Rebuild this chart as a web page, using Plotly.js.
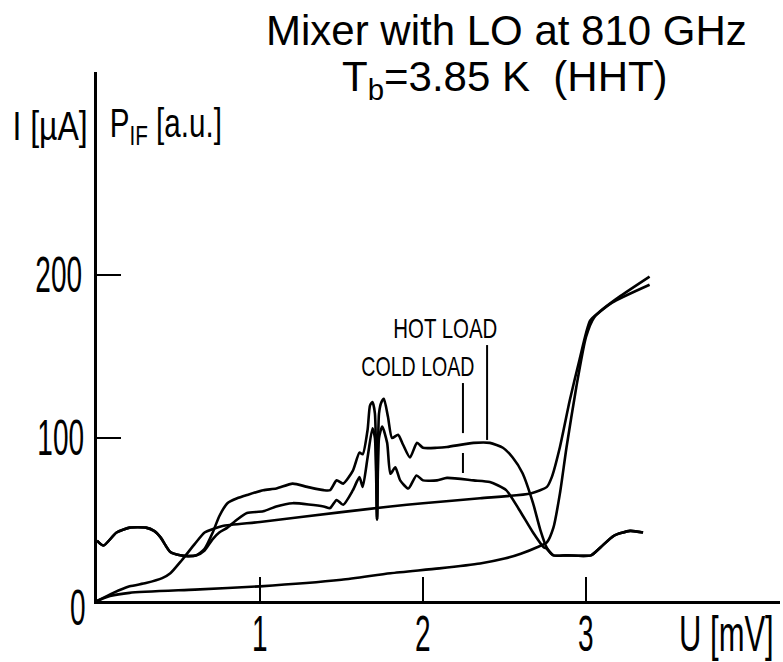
<!DOCTYPE html>
<html>
<head>
<meta charset="utf-8">
<script src="https://cdn.plot.ly/plotly-3.0.1.min.js"></script>
<style>html,body{margin:0;padding:0;background:#fff;}#chart{width:783px;height:662px;}</style>
</head>
<body>
<div id="chart"></div>
<script>
// Unpumped I-V curve  (U in mV, I in µA)
const ivUnpumpedU = [0, 0.08, 0.2, 0.6, 1.0, 1.5, 1.8, 2.1, 2.35, 2.5, 2.6, 2.7, 2.76, 2.80, 2.84, 2.88, 2.94, 3.0, 3.05, 3.16, 3.39];
const ivUnpumpedI = [0, 3, 5, 7, 9, 13, 17, 20, 23, 26, 29, 33, 36, 45, 66, 94, 131, 162, 174, 183, 194];

// Pumped I-V curve
const ivPumpedU = [0, 0.1, 0.2, 0.3, 0.4, 0.45, 0.52, 0.6, 0.66, 0.72, 0.77, 1.0, 1.5, 1.8, 2.0, 2.35, 2.66, 2.76, 2.79, 2.84, 2.90, 2.96, 3.025, 3.09, 3.21, 3.39];
const ivPumpedI = [0, 5, 9, 11, 14, 17, 25, 35, 42, 44.5, 46, 48.5, 54.5, 58, 60, 63, 66, 70, 76, 94.5, 123, 148, 172, 178, 187, 199];

// IF power, hot load
const ifHotU = [0, 0.04, 0.12, 0.2, 0.3, 0.35, 0.39, 0.45, 0.51, 0.56, 0.61, 0.66, 0.71, 0.75, 0.8, 0.86, 0.92, 1.02, 1.10, 1.20, 1.29, 1.39, 1.43, 1.47, 1.51, 1.57, 1.61, 1.63, 1.66, 1.675, 1.69, 1.705, 1.718, 1.73, 1.745, 1.76, 1.785, 1.81, 1.847, 1.877, 1.92, 1.963, 2.0, 2.086, 2.147, 2.31, 2.41, 2.49, 2.55, 2.61, 2.675, 2.72, 2.76, 2.80, 2.88, 3.03, 3.09, 3.17, 3.27, 3.35];
const ifHotP = [37, 34, 42, 45, 45, 43, 39, 30, 28, 27.5, 28, 32, 42, 52, 60, 63, 65, 68, 69, 72, 70, 68, 68, 74, 72, 80, 91, 90, 105, 120, 122, 115, 50, 115, 122, 124, 113, 100, 102, 96, 88, 97, 94, 94, 94.5, 97, 97, 94, 88, 78.5, 60, 43.5, 32.5, 28, 28, 28, 33, 40, 43, 42];

// IF power, cold load
const ifColdU = [0, 0.04, 0.12, 0.2, 0.3, 0.35, 0.39, 0.45, 0.51, 0.56, 0.61, 0.66, 0.71, 0.75, 0.8, 0.86, 0.92, 1.02, 1.10, 1.20, 1.39, 1.43, 1.47, 1.51, 1.57, 1.61, 1.63, 1.66, 1.69, 1.705, 1.718, 1.73, 1.75, 1.78, 1.80, 1.83, 1.86, 1.91, 1.96, 2.0, 2.086, 2.147, 2.31, 2.41, 2.51, 2.59, 2.675, 2.74, 2.76, 2.80, 2.88, 3.03, 3.09, 3.17, 3.27, 3.35];
const ifColdP = [37, 34, 42, 45, 45, 43, 39, 30, 28, 27.5, 28, 31, 38, 42, 45, 50, 54, 55, 58, 60, 58, 57, 62, 59, 68, 76, 70, 88, 106, 100, 50, 100, 107, 97, 78, 82, 74, 69, 77, 74, 74, 75.5, 74, 73, 68, 56, 42, 33, 32, 28, 28, 28, 33, 40, 43, 42];

const xTickVals = [1, 2, 3];
const xTickText = ['1', '2', '3'];
const yTickVals = [0, 100, 200];
const yTickText = ['0', '100', '200'];

const sans = '"Liberation Sans", Arial, sans-serif';
const lineStyle = {color: '#000', width: 2.6, shape: 'spline', smoothing: 0.6};

const traces = [
  {x: ivUnpumpedU, y: ivUnpumpedI, mode: 'lines', line: lineStyle, name: 'I unpumped'},
  {x: ivPumpedU, y: ivPumpedI, mode: 'lines', line: lineStyle, name: 'I pumped'},
  {x: ifHotU, y: ifHotP, mode: 'lines', line: lineStyle, name: 'P_IF hot'},
  {x: ifColdU, y: ifColdP, mode: 'lines', line: lineStyle, name: 'P_IF cold'}
];

// pixel helpers for paper-referenced text placement
const PL = 97, PW = 683, PT = 72, PH = 529;
const px = v => (v - PL) / PW;
const py = v => 1 - (v - PT) / PH;

const annotations = [];
const squeeze = [];
function addText(opts, sx) { annotations.push(Object.assign({showarrow: false, xanchor: 'center', yanchor: 'middle'}, opts)); squeeze.push(sx); }

addText({text: 'Mixer with LO at 810 GHz', xref: 'paper', yref: 'paper', x: px(506), y: py(31), font: {family: sans, size: 42, color: '#000'}}, 1);
addText({text: 'T<sub>b</sub>=3.85 K\u00a0 (HHT)', xref: 'paper', yref: 'paper', x: px(505), y: py(79), font: {family: sans, size: 42, color: '#000'}}, 1);
addText({text: 'I [µA]', xref: 'paper', yref: 'paper', x: px(50), y: py(126), font: {family: sans, size: 40, color: '#000'}}, 0.8);
addText({text: 'P<sub>IF</sub> [a.u.]', xref: 'paper', yref: 'paper', x: px(166), y: py(126), font: {family: sans, size: 40, color: '#000'}}, 0.74);
addText({text: 'U [mV]', xref: 'paper', yref: 'paper', x: px(726), y: py(634), font: {family: sans, size: 50, color: '#000'}}, 0.62);
addText({text: 'HOT LOAD', xref: 'paper', yref: 'paper', x: px(445), y: py(328), font: {family: sans, size: 28, color: '#000'}}, 0.73);
addText({text: 'COLD LOAD', xref: 'paper', yref: 'paper', x: px(418), y: py(366), font: {family: sans, size: 28, color: '#000'}}, 0.70);
xTickVals.forEach((v, i) => addText({text: xTickText[i], xref: 'x', yref: 'paper', x: v, y: py(634), font: {family: sans, size: 50, color: '#000'}}, 0.56));
const yLabelCx = [77.5, 60, 58.5];
const yLabelShift = [-7, 0, 0];
yTickVals.forEach((v, i) => addText({text: yTickText[i], xref: 'paper', yref: 'y', x: px(yLabelCx[i]), y: v, yshift: yLabelShift[i], font: {family: sans, size: 50, color: '#000'}}, 0.56));

const layout = {
  width: 783, height: 662,
  margin: {l: 97, r: 3, t: 72, b: 61},
  paper_bgcolor: '#fff', plot_bgcolor: '#fff',
  showlegend: false,
  xaxis: {
    range: [0, 4.19], showgrid: false, zeroline: false,
    showline: true, linecolor: '#000', linewidth: 3,
    ticks: 'inside', ticklen: 24, tickwidth: 2.5, tickcolor: '#000',
    tickvals: xTickVals, showticklabels: false
  },
  yaxis: {
    range: [0, 324.5], showgrid: false, zeroline: false,
    showline: true, linecolor: '#000', linewidth: 3,
    ticks: 'inside', ticklen: 24, tickwidth: 2.5, tickcolor: '#000',
    tickvals: yTickVals.slice(1), showticklabels: false
  },
  shapes: [
    {type: 'line', xref: 'x', yref: 'y', x0: 2.245, x1: 2.245, y0: 133.7, y1: 103, line: {color: '#000', width: 2}},
    {type: 'line', xref: 'x', yref: 'y', x0: 2.245, x1: 2.245, y0: 90.8, y1: 78.5, line: {color: '#000', width: 2}},
    {type: 'line', xref: 'x', yref: 'y', x0: 2.393, x1: 2.393, y0: 157, y1: 98.8, line: {color: '#000', width: 2}}
  ],
  annotations: annotations
};

Plotly.newPlot('chart', traces, layout, {staticPlot: true, displayModeBar: false}).then(gd => {
  gd.querySelectorAll('g.annotation').forEach(g => {
    const i = +g.getAttribute('data-index');
    const s = squeeze[i];
    const t = g.querySelector('text.annotation-text');
    if (t && s !== 1) {
      t.style.transformBox = 'fill-box';
      t.style.transformOrigin = 'center';
      t.style.transform = 'scaleX(' + s + ')';
    }
  });
});
</script>
</body>
</html>
